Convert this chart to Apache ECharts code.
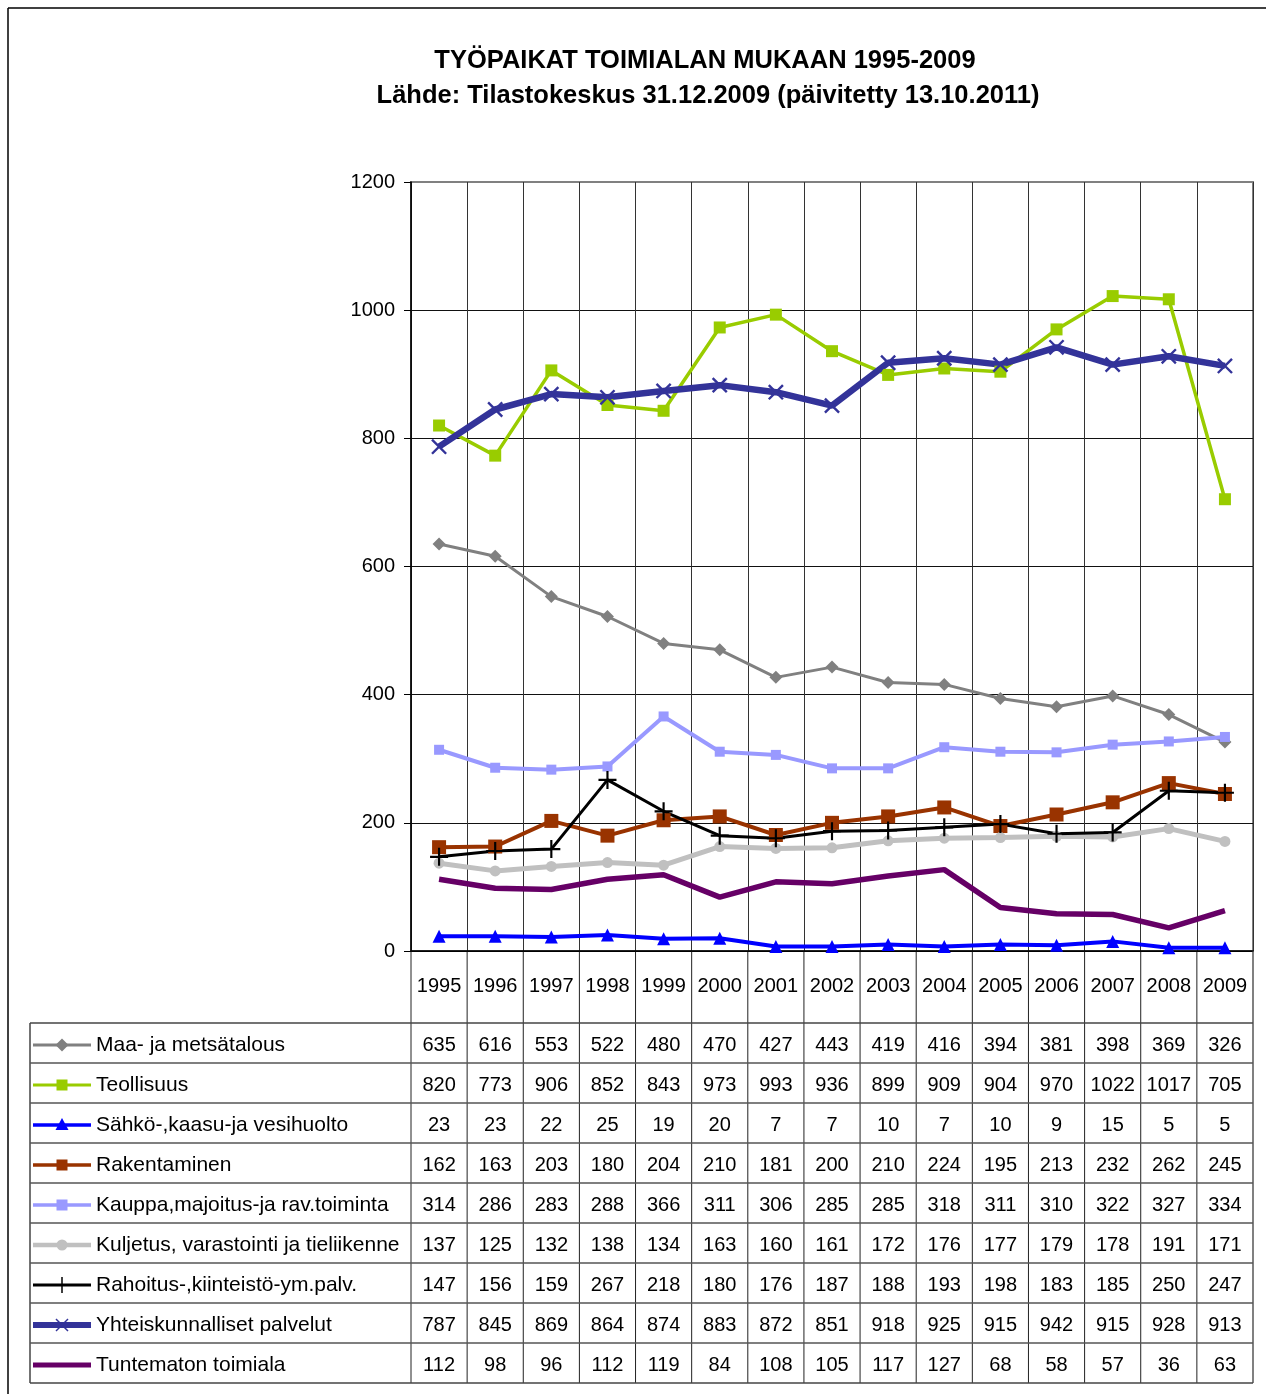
<!DOCTYPE html>
<html>
<head>
<meta charset="utf-8">
<script src="https://cdn.jsdelivr.net/npm/echarts@6/dist/echarts.min.js"></script>
<style>
html,body{margin:0;padding:0;background:#fff;}
#c{width:1266px;height:1394px;}
</style>
</head>
<body>
<div id="c"></div>
<script>
// ---- DATA ----
var years = ['1995','1996','1997','1998','1999','2000','2001','2002','2003','2004','2005','2006','2007','2008','2009'];
var yTicks = [0, 200, 400, 600, 800, 1000, 1200];
var titleLine1 = 'TYÖPAIKAT TOIMIALAN MUKAAN 1995-2009';
var titleLine2 = 'Lähde: Tilastokeskus 31.12.2009 (päivitetty 13.10.2011)';

var seriesNames = [
  'Maa- ja metsätalous',
  'Teollisuus',
  'Sähkö-,kaasu-ja vesihuolto',
  'Rakentaminen',
  'Kauppa,majoitus-ja rav.toiminta',
  'Kuljetus, varastointi ja tieliikenne',
  'Rahoitus-,kiinteistö-ym.palv.',
  'Yhteiskunnalliset palvelut',
  'Tuntematon toimiala'
];
var maa = [635,616,553,522,480,470,427,443,419,416,394,381,398,369,326];
var teollisuus = [820,773,906,852,843,973,993,936,899,909,904,970,1022,1017,705];
var sahko = [23,23,22,25,19,20,7,7,10,7,10,9,15,5,5];
var rakentaminen = [162,163,203,180,204,210,181,200,210,224,195,213,232,262,245];
var kauppa = [314,286,283,288,366,311,306,285,285,318,311,310,322,327,334];
var kuljetus = [137,125,132,138,134,163,160,161,172,176,177,179,178,191,171];
var rahoitus = [147,156,159,267,218,180,176,187,188,193,198,183,185,250,247];
var yhteis = [787,845,869,864,874,883,872,851,918,925,915,942,915,928,913];
var tuntematon = [112,98,96,112,119,84,108,105,117,127,68,58,57,36,63];
var allValues = [maa, teollisuus, sahko, rakentaminen, kauppa, kuljetus, rahoitus, yhteis, tuntematon];

// ---- STYLES ----
var PLUS = 'path://M4.4,0h1.2v10h-1.2z M0,4.4h10v1.2h-10z';
var styles = [
  {color:'#808080', width:3, symbol:'diamond', size:13, key:'diamond'},
  {color:'#99CC00', width:3.5, symbol:'rect', size:12, key:'square'},
  {color:'#0000FF', width:4, symbol:'triangle', size:13, key:'triangle'},
  {color:'#993300', width:4, symbol:'rect', size:14, key:'square'},
  {color:'#9999FF', width:4, symbol:'rect', size:10, key:'square'},
  {color:'#C0C0C0', width:5, symbol:'circle', size:11, key:'circle'},
  {color:'#000000', width:3, symbol:PLUS, size:18, key:'plus'},
  {color:'#333399', width:6.5, symbol:PLUS, size:20, rotate:45, key:'x'},
  {color:'#660066', width:5.5, symbol:'none', size:0, key:'none'}
];

var FONT = '"Liberation Sans", Arial, sans-serif';
var chart = echarts.init(document.getElementById('c'), null, {renderer:'canvas'});

var series = allValues.map(function(vals, i){
  var s = styles[i];
  return {
    name: seriesNames[i],
    type: 'line',
    data: vals,
    symbol: s.symbol,
    symbolSize: s.size,
    symbolRotate: s.rotate || 0,
    showSymbol: s.symbol !== 'none',
    lineStyle: {color: s.color, width: s.width},
    itemStyle: {color: s.color},
    emphasis: {disabled: true},
    silent: true,
    animation: false
  };
});

chart.setOption({
  animation: false,
  backgroundColor: '#fff',
  grid: {left: 411, right: 13, top: 182, bottom: 443, show: true, borderColor: '#808080', borderWidth: 2, backgroundColor: 'transparent'},
  xAxis: {
    type: 'category',
    data: years,
    boundaryGap: true,
    axisLine: {show: true, lineStyle: {color: '#000', width: 1.5}},
    axisTick: {show: false},
    axisLabel: {color: '#000', fontSize: 20, fontFamily: FONT, margin: 25, interval: 0},
    splitLine: {show: true, interval: 0, lineStyle: {color: '#333', width: 1}}
  },
  yAxis: {
    type: 'value',
    min: yTicks[0],
    max: yTicks[yTicks.length - 1],
    interval: yTicks[1] - yTicks[0],
    axisLine: {show: true, lineStyle: {color: '#000', width: 1.5}},
    axisTick: {show: true, length: 7, lineStyle: {color: '#000'}},
    axisLabel: {color: '#000', fontSize: 20, fontFamily: FONT, margin: 16, formatter: function(v){ return String(v); }},
    splitLine: {show: true, lineStyle: {color: ['#000','#111','#111','#111','#111','#111','#808080'], width: 1}}
  },
  series: series
});

// ---- TABLE & TITLE (positions from axes) ----
var centers = years.map(function(y){ return chart.convertToPixel({xAxisIndex: 0}, y); });
var colW = centers[1] - centers[0];
var xLeft = centers[0] - colW / 2;
var xRight = centers[centers.length - 1] + colW / 2;
var y0 = chart.convertToPixel({yAxisIndex: 0}, 0);
var tableTop = y0 + 72;
var rowH = 40;
var tableLeft = 30;
var tableBottom = tableTop + rowH * seriesNames.length;

var g = [];
function line(x1, y1, x2, y2, color, w){
  g.push({type: 'line', silent: true, shape: {x1: x1, y1: y1, x2: x2, y2: y2}, style: {stroke: color, lineWidth: w}});
}
// outer frame (left & top)
line(8, 8, 1266, 8, '#000', 1.5);
line(8, 8, 8, 1394, '#000', 1.5);

// title
g.push({type: 'text', silent: true, x: 705, y: 61, style: {text: titleLine1, font: 'bold 25.5px ' + FONT, fill: '#000', textAlign: 'center', textVerticalAlign: 'middle'}});
g.push({type: 'text', silent: true, x: 708, y: 96, style: {text: titleLine2, font: 'bold 25.5px ' + FONT, fill: '#000', textAlign: 'center', textVerticalAlign: 'middle'}});

// column lines through year row and table
for (var c = 0; c <= years.length; c++) {
  var xx = xLeft + c * colW;
  var col = (c === years.length) ? '#808080' : '#222';
  line(xx, y0, xx, tableBottom, col, (c === years.length) ? 2 : 1);
}
// table left border
line(tableLeft, tableTop, tableLeft, tableBottom, '#444', 1.5);
// row lines
for (var r = 0; r <= seriesNames.length; r++) {
  line(tableLeft, tableTop + r * rowH, xRight, tableTop + r * rowH, (r === 0 || r === seriesNames.length) ? '#444' : '#555', 1.5);
}

function legendSymbol(key, cx, cy, color){
  if (key === 'diamond') {
    g.push({type: 'polygon', silent: true, shape: {points: [[cx, cy - 6.5], [cx + 6.5, cy], [cx, cy + 6.5], [cx - 6.5, cy]]}, style: {fill: color}});
  } else if (key === 'square') {
    g.push({type: 'rect', silent: true, shape: {x: cx - 5.5, y: cy - 5.5, width: 11, height: 11}, style: {fill: color}});
  } else if (key === 'triangle') {
    g.push({type: 'polygon', silent: true, shape: {points: [[cx, cy - 7], [cx + 6.5, cy + 5], [cx - 6.5, cy + 5]]}, style: {fill: color}});
  } else if (key === 'circle') {
    g.push({type: 'circle', silent: true, shape: {cx: cx, cy: cy, r: 5.5}, style: {fill: color}});
  } else if (key === 'plus') {
    line(cx, cy - 8, cx, cy + 8, color, 1.5);
  } else if (key === 'x') {
    line(cx - 6, cy - 6, cx + 6, cy + 6, color, 1.5);
    line(cx - 6, cy + 6, cx + 6, cy - 6, color, 1.5);
  }
}

for (var i = 0; i < seriesNames.length; i++) {
  var cy = tableTop + i * rowH + rowH / 2 + 2;
  var s = styles[i];
  line(33, cy, 91, cy, s.color, Math.max(s.width - 0.5, 3));
  legendSymbol(s.key, 62, cy, s.color);
  g.push({type: 'text', silent: true, x: 96, y: cy, style: {text: seriesNames[i], font: '21px ' + FONT, fill: '#000', textAlign: 'left', textVerticalAlign: 'middle'}});
  var vals = allValues[i];
  for (var j = 0; j < vals.length; j++) {
    g.push({type: 'text', silent: true, x: centers[j], y: cy, style: {text: String(vals[j]), font: '20px ' + FONT, fill: '#000', textAlign: 'center', textVerticalAlign: 'middle'}});
  }
}

chart.setOption({graphic: {elements: g}});
</script>
</body>
</html>
